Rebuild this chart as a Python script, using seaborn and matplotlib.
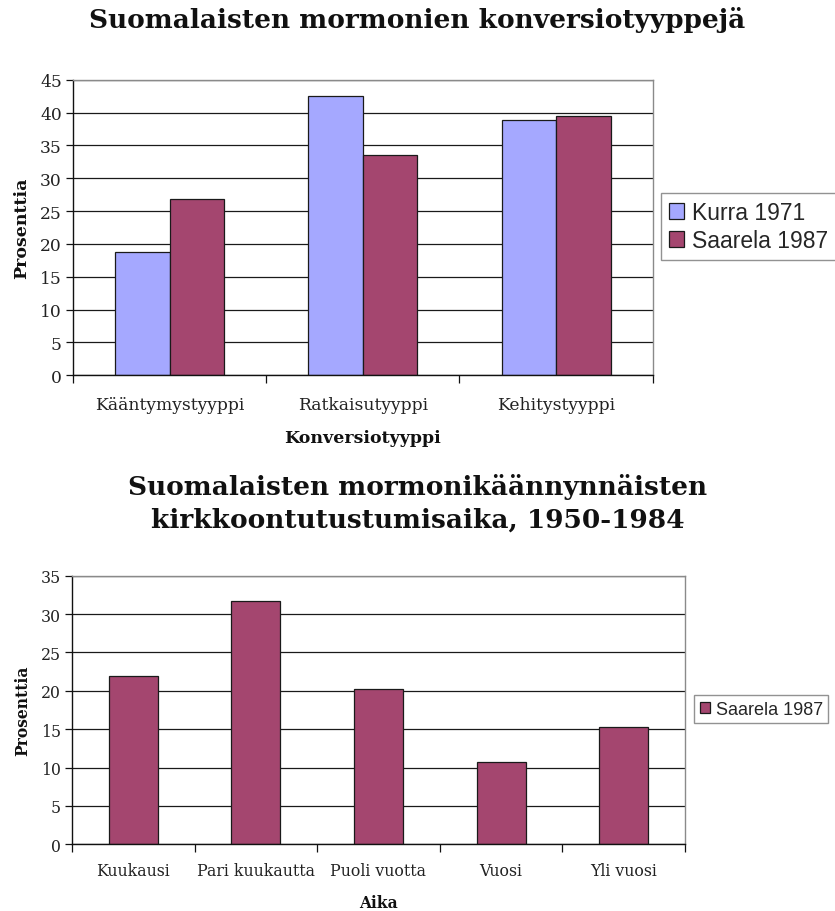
import matplotlib
matplotlib.use("Agg")
import matplotlib.pyplot as plt
import seaborn as sns
import pandas as pd
import numpy as np

# ---- data ----
conv_types = ["Kääntymystyyppi", "Ratkaisutyyppi", "Kehitystyyppi"]
kurra_1971 = [18.8, 42.5, 38.8]
saarela_1987_conv = [26.8, 33.6, 39.4]
series_names = ["Kurra 1971", "Saarela 1987"]

time_cats = ["Kuukausi", "Pari kuukautta", "Puoli vuotta", "Vuosi", "Yli vuosi"]
saarela_1987_time = [22.0, 31.7, 20.2, 10.7, 15.3]

top_yticks = [0, 5, 10, 15, 20, 25, 30, 35, 40, 45]
bot_yticks = [0, 5, 10, 15, 20, 25, 30, 35]

c_kurra = "#A5A8FF"
c_saarela = "#A4466F"

sns.set_theme(style="white")
plt.rcParams["font.family"] = ["DejaVu Serif"]

fig = plt.figure(figsize=(8.35, 9.12), dpi=100)

title_font = {"family": "DejaVu Serif", "weight": "bold", "size": 19}


def style_axes(ax, ncat, yticks, ymax, tickpad, tick_size):
    ax.set_ylim(0, ymax)
    ax.set_xlim(-0.5, ncat - 0.5)
    ax.set_yticks(yticks)
    ax.set_yticklabels([str(t) for t in yticks],
                       fontdict={"family": "DejaVu Serif", "size": tick_size},
                       color="#222222")
    ax.yaxis.grid(True, color="#1a1a1a", linewidth=0.9)
    ax.set_axisbelow(True)
    for s in ["top", "right"]:
        ax.spines[s].set_color("#8a8a8a")
        ax.spines[s].set_linewidth(1.0)
    for s in ["left", "bottom"]:
        ax.spines[s].set_color("#111111")
        ax.spines[s].set_linewidth(1.0)
    ax.tick_params(axis="y", which="major", length=5, width=0.9, color="#111111",
                   direction="out", left=True, pad=3)
    ax.tick_params(axis="x", which="major", length=0, pad=tickpad)
    ax.set_xticks(np.arange(-0.5, ncat, 1.0), minor=True)
    ax.tick_params(axis="x", which="minor", length=6, width=0.9, color="#111111",
                   direction="out", bottom=True)
    for lab in ax.get_xticklabels():
        lab.set_fontfamily("DejaVu Serif")
        lab.set_fontsize(tick_size)
        lab.set_color("#222222")


# ---- top chart ----
df_top = pd.DataFrame({
    "cat": conv_types * 2,
    "series": [series_names[0]] * 3 + [series_names[1]] * 3,
    "val": kurra_1971 + saarela_1987_conv,
})
ax1 = fig.add_axes([0.0874, 0.5874, 0.6943, 0.3241])
sns.barplot(data=df_top, x="cat", y="val", hue="series", order=conv_types,
            hue_order=series_names, palette=[c_kurra, c_saarela], width=0.565,
            edgecolor="#1a1a1a", linewidth=0.9, saturation=1, ax=ax1, errorbar=None)
style_axes(ax1, 3, top_yticks, 45, 15, 12.3)
lab1 = {"family": "DejaVu Serif", "weight": "bold", "size": 12.5}
ax1.set_xlabel("Konversiotyyppi", fontdict=lab1, color="#111111")
ax1.xaxis.set_label_coords(0.5, -0.183)
ax1.set_ylabel("Prosenttia", fontdict=lab1, color="#111111")
ax1.yaxis.set_label_coords(-0.074, 0.5)
leg1 = ax1.legend(loc="upper left", bbox_to_anchor=(1.015, 0.617), frameon=True,
                  prop={"family": "Liberation Sans", "size": 16.5}, handlelength=0.65,
                  handleheight=0.65, handletextpad=0.35, borderpad=0.35,
                  labelspacing=0.22, fancybox=False, borderaxespad=0)
leg1.get_frame().set_edgecolor("#777777")
leg1.get_frame().set_linewidth(1.0)
fig.text(0.5, 0.978, "Suomalaisten mormonien konversiotyyppejä", ha="center",
         va="center", fontdict=title_font, color="#111111")

# ---- bottom chart ----
df_bot = pd.DataFrame({
    "cat": time_cats,
    "series": ["Saarela 1987"] * len(time_cats),
    "val": saarela_1987_time,
})
ax2 = fig.add_axes([0.0862, 0.0731, 0.7341, 0.2945])
sns.barplot(data=df_bot, x="cat", y="val", hue="series", order=time_cats,
            palette=[c_saarela], width=0.4, edgecolor="#1a1a1a", linewidth=0.9,
            saturation=1, ax=ax2, errorbar=None)
style_axes(ax2, 5, bot_yticks, 35, 13, 11.3)
lab2 = {"family": "DejaVu Serif", "weight": "bold", "size": 11.2}
ax2.set_xlabel("Aika", fontdict=lab2, color="#111111")
ax2.xaxis.set_label_coords(0.5, -0.185)
ax2.set_ylabel("Prosenttia", fontdict=lab2, color="#111111")
ax2.yaxis.set_label_coords(-0.067, 0.5)
leg2 = ax2.legend(loc="upper left", bbox_to_anchor=(1.015, 0.555), frameon=True,
                  prop={"family": "Liberation Sans", "size": 13}, handlelength=0.6,
                  handleheight=0.6, handletextpad=0.3, borderpad=0.3,
                  fancybox=False, borderaxespad=0)
leg2.get_frame().set_edgecolor("#777777")
leg2.get_frame().set_linewidth(1.0)
fig.text(0.5, 1 - 487 / 912, "Suomalaisten mormonikäännynnäisten", ha="center",
         va="center", fontdict=title_font, color="#111111")
fig.text(0.5, 1 - 520 / 912, "kirkkoontutustumisaika, 1950-1984", ha="center",
         va="center", fontdict=title_font, color="#111111")

fig.savefig("out.png", dpi=100)
